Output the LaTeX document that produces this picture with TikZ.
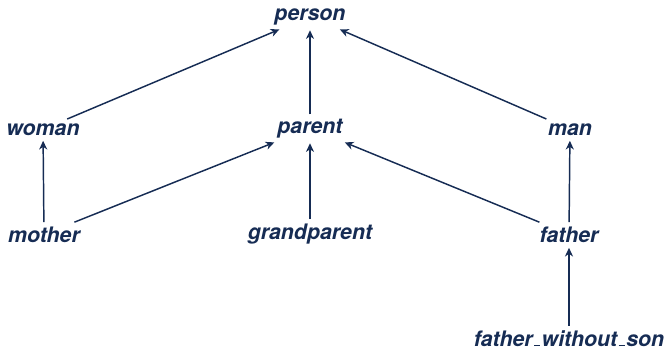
\documentclass[tikz,border=0pt]{standalone}
\usepackage{fontspec}
\setsansfont{TeX Gyre Heros}
\usetikzlibrary{positioning, arrows.meta}

\definecolor{navy}{RGB}{22,44,84}
% short underscore, as in the classic OT1 fonts
\newcommand{\shortus}{\leavevmode\kern.06em\vbox{\hrule width.3em height.07em}\kern.06em}

\begin{document}
\begin{tikzpicture}[x=0.75pt,y=0.75pt,yscale=-1,xscale=1,
  cls/.style={anchor=base,inner sep=3pt,text=navy,font=\fontsize{16}{19}\sffamily\bfseries\itshape},
  isa/.style={draw=navy,line width=1.1pt,-{Stealth[length=6.5pt,width=6pt,inset=2pt]},shorten >=1pt}]
\useasboundingbox (0,0) rectangle (669,351);

% Text Node
\draw (310,20) node (person) [cls] {person};
% Text Node
\draw (43,135) node (woman) [cls] {woman};
% Text Node
\draw (310,133) node (parent) [cls] {parent};
% Text Node
\draw (570,135) node (man) [cls] {man};
% Text Node
\draw (44,242) node (mother) [cls] {mother};
% Text Node
\draw (310,239) node (grandparent) [cls] {grandparent};
% Text Node
\draw (569,242) node (father) [cls] {father};
% Text Node
\draw (569,346) node (fws) [cls] {father\shortus without\shortus son};

%Straight Lines
\draw [isa] (woman) -- (person);
\draw [isa] (parent) -- (person);
\draw [isa] (man) -- (person);
\draw [isa] (mother) -- (woman);
\draw [isa] (mother) -- (parent);
\draw [isa] (grandparent) -- (parent);
\draw [isa] (father) -- (parent);
\draw [isa] (father) -- (man);
\draw [isa] (fws) -- (father);
\end{tikzpicture}
\end{document}
